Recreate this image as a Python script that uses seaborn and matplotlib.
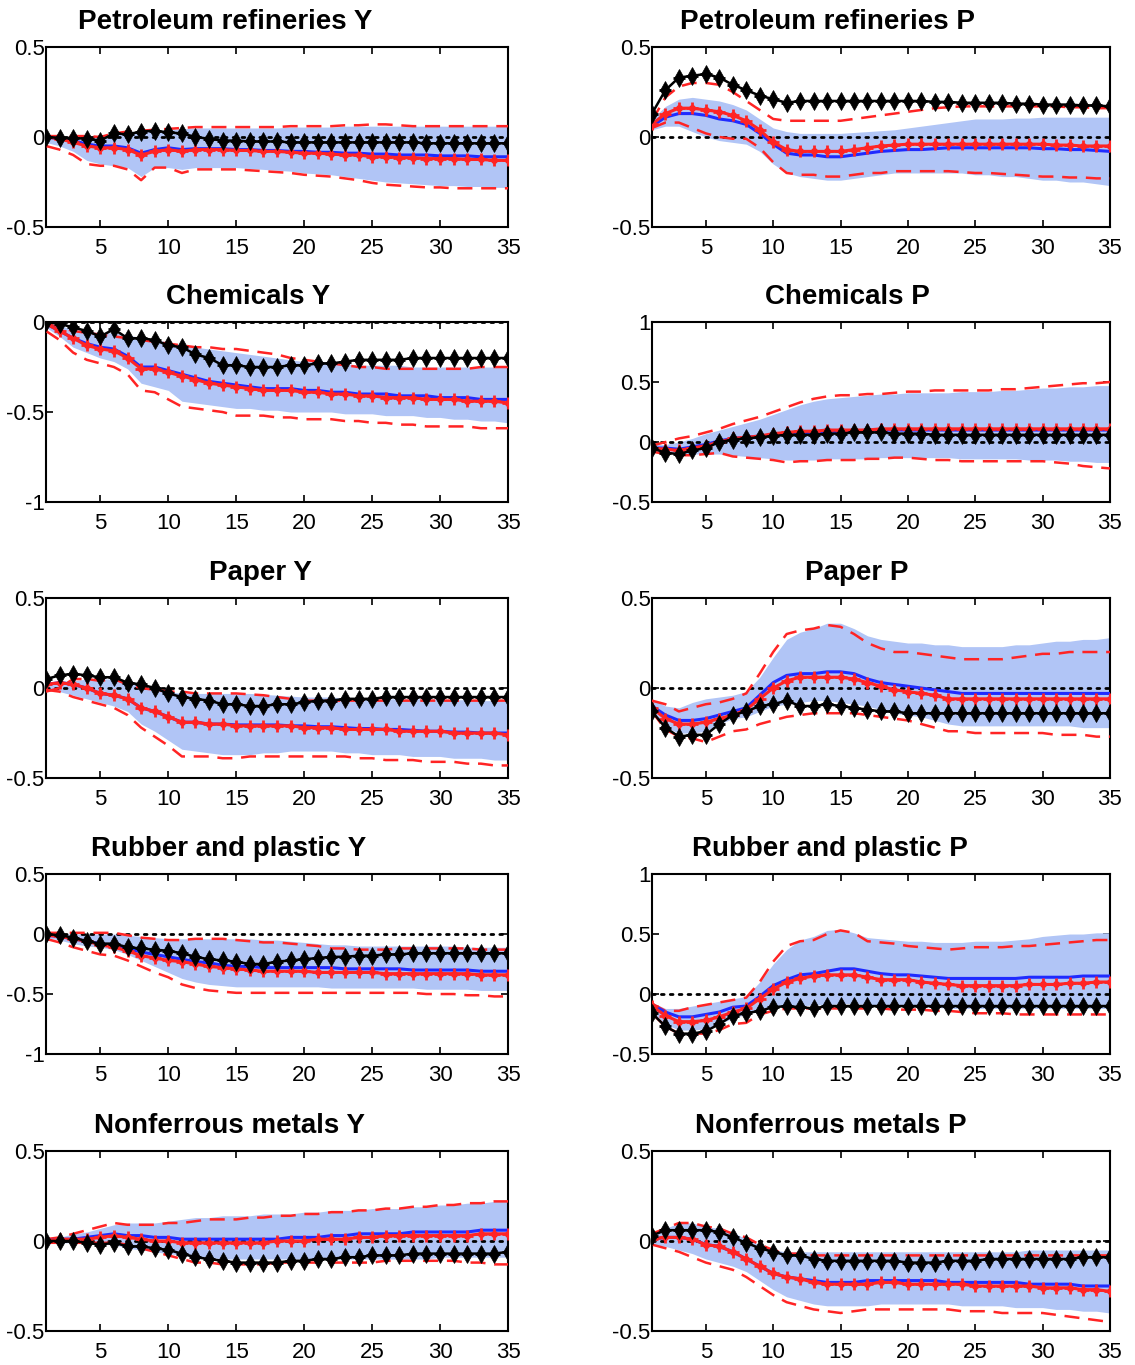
import numpy as np
import pandas as pd
import matplotlib
matplotlib.use("Agg")
import matplotlib.pyplot as plt
import seaborn as sns

# ---------------- data ----------------
horizon = list(range(1, 36))
titles = ["Petroleum refineries Y", "Petroleum refineries P",
          "Chemicals Y", "Chemicals P",
          "Paper Y", "Paper P",
          "Rubber and plastic Y", "Rubber and plastic P",
          "Nonferrous metals Y", "Nonferrous metals P"]
ylims = [(-0.5, 0.5), (-0.5, 0.5), (-1, 0), (-0.5, 1), (-0.5, 0.5),
         (-0.5, 0.5), (-1, 0.5), (-0.5, 1), (-0.5, 0.5), (-0.5, 0.5)]
yticks = [[-0.5, 0, 0.5], [-0.5, 0, 0.5], [-1, -0.5, 0], [-0.5, 0, 0.5, 1],
          [-0.5, 0, 0.5], [-0.5, 0, 0.5], [-1, -0.5, 0, 0.5], [-0.5, 0, 0.5, 1],
          [-0.5, 0, 0.5], [-0.5, 0, 0.5]]
yticklabels = [["-0.5", "0", "0.5"], ["-0.5", "0", "0.5"], ["-1", "-0.5", "0"],
               ["-0.5", "0", "0.5", "1"], ["-0.5", "0", "0.5"], ["-0.5", "0", "0.5"],
               ["-1", "-0.5", "0", "0.5"], ["-0.5", "0", "0.5", "1"],
               ["-0.5", "0", "0.5"], ["-0.5", "0", "0.5"]]
xticks = [5, 10, 15, 20, 25, 30, 35]

# Petroleum refineries Y
pry_black = [0.0,-0.005,-0.005,-0.01,-0.02,0.02,0.015,0.03,0.035,0.025,0.02,0.0,-0.01,-0.02,-0.02,-0.025,-0.025,-0.025,-0.03,-0.03,-0.03,-0.03,-0.03,-0.03,-0.03,-0.03,-0.03,-0.03,-0.035,-0.035,-0.035,-0.035,-0.035,-0.035,-0.035]
pry_red = [0.0,-0.01,-0.03,-0.05,-0.06,-0.06,-0.07,-0.1,-0.08,-0.07,-0.08,-0.07,-0.07,-0.07,-0.075,-0.075,-0.08,-0.08,-0.085,-0.09,-0.09,-0.095,-0.1,-0.1,-0.11,-0.11,-0.115,-0.115,-0.12,-0.12,-0.12,-0.125,-0.125,-0.13,-0.13]
pry_blue = [0.0,-0.01,-0.02,-0.04,-0.05,-0.05,-0.06,-0.09,-0.07,-0.06,-0.07,-0.065,-0.065,-0.065,-0.07,-0.07,-0.075,-0.075,-0.08,-0.08,-0.085,-0.085,-0.09,-0.09,-0.095,-0.095,-0.1,-0.1,-0.1,-0.105,-0.105,-0.105,-0.11,-0.11,-0.11]
pry_band_hi = [0.0,0.0,0.0,0.0,0.0,0.01,0.02,0.03,0.035,0.04,0.045,0.05,0.05,0.05,0.05,0.05,0.05,0.05,0.055,0.055,0.055,0.055,0.06,0.06,0.06,0.06,0.06,0.06,0.06,0.06,0.06,0.06,0.06,0.06,0.06]
pry_band_lo = [-0.03,-0.05,-0.08,-0.13,-0.15,-0.16,-0.17,-0.22,-0.17,-0.17,-0.18,-0.17,-0.17,-0.17,-0.17,-0.175,-0.18,-0.185,-0.19,-0.2,-0.205,-0.21,-0.22,-0.23,-0.24,-0.25,-0.255,-0.26,-0.265,-0.27,-0.27,-0.275,-0.275,-0.28,-0.28]
pry_dash_hi = [0.005,0.005,0.005,0.005,0.0,0.02,0.03,0.035,0.04,0.045,0.05,0.055,0.055,0.055,0.055,0.055,0.055,0.055,0.06,0.06,0.06,0.06,0.065,0.065,0.07,0.07,0.065,0.06,0.06,0.06,0.06,0.06,0.06,0.06,0.06]
pry_dash_lo = [-0.05,-0.07,-0.1,-0.15,-0.16,-0.16,-0.18,-0.24,-0.17,-0.17,-0.2,-0.18,-0.18,-0.18,-0.18,-0.185,-0.19,-0.195,-0.2,-0.21,-0.215,-0.22,-0.23,-0.24,-0.255,-0.265,-0.27,-0.275,-0.28,-0.28,-0.285,-0.285,-0.285,-0.285,-0.285]

# Petroleum refineries P
prp_black = [0.13,0.26,0.33,0.34,0.35,0.33,0.29,0.26,0.23,0.21,0.19,0.2,0.2,0.2,0.2,0.2,0.2,0.2,0.2,0.2,0.2,0.195,0.195,0.19,0.19,0.19,0.19,0.185,0.185,0.18,0.18,0.18,0.175,0.175,0.17]
prp_red = [0.07,0.13,0.16,0.16,0.15,0.14,0.12,0.09,0.04,-0.03,-0.07,-0.08,-0.08,-0.08,-0.08,-0.07,-0.06,-0.05,-0.045,-0.04,-0.04,-0.04,-0.04,-0.04,-0.04,-0.04,-0.04,-0.04,-0.04,-0.04,-0.045,-0.045,-0.05,-0.05,-0.05]
prp_blue = [0.06,0.11,0.13,0.13,0.12,0.1,0.09,0.07,0.02,-0.04,-0.09,-0.1,-0.1,-0.11,-0.11,-0.1,-0.09,-0.08,-0.075,-0.07,-0.07,-0.065,-0.06,-0.06,-0.06,-0.06,-0.06,-0.06,-0.06,-0.065,-0.065,-0.07,-0.07,-0.075,-0.08]
prp_band_hi = [0.1,0.17,0.21,0.22,0.21,0.2,0.18,0.15,0.1,0.05,0.03,0.02,0.02,0.02,0.02,0.025,0.03,0.035,0.04,0.05,0.06,0.07,0.08,0.09,0.1,0.1,0.1,0.105,0.105,0.11,0.11,0.11,0.11,0.11,0.11]
prp_band_lo = [0.04,0.06,0.06,0.03,0.0,-0.02,-0.03,-0.04,-0.08,-0.15,-0.2,-0.22,-0.23,-0.24,-0.24,-0.23,-0.22,-0.21,-0.2,-0.2,-0.2,-0.2,-0.2,-0.2,-0.21,-0.21,-0.22,-0.22,-0.23,-0.24,-0.24,-0.25,-0.25,-0.26,-0.27]
prp_dash_hi = [0.09,0.22,0.28,0.3,0.3,0.29,0.25,0.2,0.15,0.1,0.09,0.09,0.09,0.09,0.09,0.1,0.11,0.12,0.13,0.14,0.15,0.16,0.165,0.17,0.17,0.17,0.17,0.17,0.17,0.17,0.17,0.165,0.165,0.16,0.16]
prp_dash_lo = [0.05,0.08,0.08,0.05,0.02,0.0,-0.01,-0.01,-0.06,-0.14,-0.2,-0.21,-0.21,-0.22,-0.22,-0.21,-0.2,-0.2,-0.19,-0.19,-0.19,-0.19,-0.19,-0.195,-0.2,-0.2,-0.205,-0.21,-0.215,-0.22,-0.22,-0.225,-0.225,-0.23,-0.23]

# Chemicals Y
chy_black = [0.0,-0.01,-0.03,-0.05,-0.08,-0.04,-0.09,-0.09,-0.1,-0.13,-0.14,-0.18,-0.2,-0.24,-0.24,-0.25,-0.25,-0.25,-0.24,-0.24,-0.23,-0.23,-0.22,-0.21,-0.21,-0.21,-0.21,-0.2,-0.2,-0.2,-0.2,-0.2,-0.2,-0.2,-0.2]
chy_red = [-0.01,-0.05,-0.09,-0.13,-0.15,-0.16,-0.2,-0.26,-0.26,-0.28,-0.3,-0.32,-0.34,-0.35,-0.36,-0.37,-0.38,-0.38,-0.38,-0.39,-0.39,-0.4,-0.4,-0.41,-0.41,-0.42,-0.42,-0.42,-0.43,-0.43,-0.43,-0.44,-0.44,-0.44,-0.45]
chy_blue = [-0.01,-0.05,-0.09,-0.12,-0.14,-0.15,-0.19,-0.25,-0.25,-0.27,-0.29,-0.31,-0.33,-0.34,-0.35,-0.36,-0.37,-0.37,-0.37,-0.38,-0.38,-0.39,-0.39,-0.4,-0.4,-0.4,-0.41,-0.41,-0.41,-0.42,-0.42,-0.42,-0.43,-0.43,-0.43]
chy_band_hi = [0.0,-0.02,-0.04,-0.05,-0.06,-0.06,-0.07,-0.09,-0.1,-0.11,-0.13,-0.14,-0.15,-0.16,-0.17,-0.18,-0.19,-0.2,-0.21,-0.22,-0.22,-0.23,-0.23,-0.24,-0.24,-0.24,-0.24,-0.25,-0.25,-0.25,-0.25,-0.25,-0.25,-0.25,-0.25]
chy_band_lo = [-0.03,-0.08,-0.14,-0.17,-0.2,-0.22,-0.26,-0.34,-0.36,-0.38,-0.44,-0.45,-0.46,-0.47,-0.48,-0.48,-0.49,-0.49,-0.5,-0.5,-0.5,-0.5,-0.51,-0.51,-0.51,-0.52,-0.52,-0.52,-0.53,-0.53,-0.54,-0.54,-0.55,-0.55,-0.56]
chy_dash_hi = [-0.01,-0.03,-0.05,-0.06,-0.07,-0.08,-0.09,-0.1,-0.11,-0.12,-0.13,-0.14,-0.14,-0.15,-0.15,-0.16,-0.17,-0.18,-0.2,-0.21,-0.22,-0.23,-0.24,-0.25,-0.25,-0.26,-0.26,-0.26,-0.26,-0.26,-0.26,-0.26,-0.25,-0.25,-0.25]
chy_dash_lo = [-0.05,-0.1,-0.17,-0.21,-0.23,-0.25,-0.29,-0.38,-0.39,-0.43,-0.47,-0.48,-0.49,-0.5,-0.52,-0.52,-0.52,-0.53,-0.53,-0.54,-0.54,-0.54,-0.55,-0.55,-0.56,-0.56,-0.57,-0.57,-0.58,-0.58,-0.58,-0.58,-0.59,-0.59,-0.59]

# Chemicals P
chp_black = [-0.05,-0.09,-0.1,-0.07,-0.05,0.0,0.02,0.03,0.04,0.05,0.06,0.06,0.06,0.07,0.07,0.08,0.08,0.08,0.07,0.07,0.07,0.06,0.06,0.06,0.06,0.06,0.06,0.06,0.06,0.06,0.06,0.06,0.06,0.06,0.06]
chp_red = [-0.05,-0.06,-0.07,-0.05,-0.03,0.0,0.03,0.04,0.05,0.07,0.08,0.09,0.09,0.1,0.1,0.1,0.1,0.11,0.11,0.11,0.11,0.11,0.11,0.11,0.11,0.11,0.11,0.11,0.11,0.11,0.11,0.11,0.11,0.11,0.11]
chp_blue = [-0.05,-0.05,-0.06,-0.04,-0.02,0.01,0.03,0.04,0.05,0.06,0.07,0.08,0.08,0.09,0.09,0.09,0.1,0.1,0.1,0.1,0.1,0.1,0.1,0.1,0.1,0.1,0.1,0.1,0.1,0.1,0.1,0.1,0.1,0.1,0.1]
chp_band_hi = [-0.02,-0.02,0.0,0.03,0.07,0.1,0.13,0.16,0.19,0.23,0.27,0.31,0.34,0.36,0.37,0.38,0.39,0.4,0.4,0.41,0.41,0.41,0.41,0.42,0.42,0.42,0.43,0.43,0.44,0.45,0.45,0.46,0.46,0.47,0.47]
chp_band_lo = [-0.07,-0.09,-0.1,-0.1,-0.1,-0.1,-0.11,-0.12,-0.13,-0.14,-0.15,-0.15,-0.15,-0.14,-0.14,-0.14,-0.14,-0.13,-0.13,-0.13,-0.13,-0.13,-0.13,-0.14,-0.14,-0.14,-0.14,-0.14,-0.15,-0.15,-0.15,-0.16,-0.16,-0.17,-0.17]
chp_dash_hi = [-0.03,0.0,0.03,0.05,0.08,0.11,0.15,0.18,0.21,0.25,0.29,0.33,0.36,0.38,0.39,0.39,0.4,0.4,0.41,0.42,0.42,0.43,0.43,0.43,0.43,0.43,0.44,0.44,0.45,0.46,0.47,0.48,0.49,0.49,0.5]
chp_dash_lo = [-0.08,-0.1,-0.11,-0.11,-0.1,-0.09,-0.12,-0.13,-0.14,-0.15,-0.17,-0.16,-0.16,-0.15,-0.15,-0.15,-0.14,-0.14,-0.13,-0.13,-0.14,-0.15,-0.15,-0.16,-0.16,-0.16,-0.16,-0.16,-0.16,-0.16,-0.17,-0.18,-0.2,-0.21,-0.22]

# Paper Y
pay_black = [0.05,0.07,0.08,0.07,0.06,0.06,0.03,0.02,0.0,-0.03,-0.05,-0.06,-0.07,-0.09,-0.09,-0.1,-0.1,-0.09,-0.09,-0.08,-0.07,-0.07,-0.06,-0.06,-0.06,-0.05,-0.05,-0.05,-0.05,-0.05,-0.05,-0.05,-0.05,-0.05,-0.05]
pay_red = [0.02,0.03,0.02,0.0,-0.03,-0.04,-0.06,-0.11,-0.13,-0.16,-0.19,-0.19,-0.2,-0.2,-0.21,-0.21,-0.21,-0.21,-0.21,-0.22,-0.22,-0.22,-0.23,-0.23,-0.23,-0.23,-0.24,-0.24,-0.24,-0.24,-0.25,-0.25,-0.25,-0.25,-0.26]
pay_blue = [0.02,0.03,0.02,0.0,-0.03,-0.04,-0.06,-0.11,-0.13,-0.16,-0.19,-0.19,-0.2,-0.2,-0.205,-0.205,-0.205,-0.205,-0.21,-0.21,-0.215,-0.215,-0.22,-0.225,-0.225,-0.23,-0.23,-0.235,-0.24,-0.24,-0.245,-0.245,-0.25,-0.25,-0.25]
pay_band_hi = [0.02,0.04,0.04,0.05,0.05,0.05,0.03,0.02,0.0,-0.02,-0.03,-0.03,-0.03,-0.03,-0.03,-0.03,-0.035,-0.04,-0.045,-0.05,-0.05,-0.05,-0.055,-0.055,-0.06,-0.06,-0.06,-0.06,-0.06,-0.06,-0.065,-0.065,-0.07,-0.07,-0.07]
pay_band_lo = [0.0,-0.02,-0.04,-0.06,-0.08,-0.1,-0.13,-0.2,-0.24,-0.29,-0.34,-0.35,-0.36,-0.37,-0.37,-0.37,-0.36,-0.36,-0.35,-0.35,-0.35,-0.35,-0.36,-0.36,-0.37,-0.37,-0.37,-0.38,-0.38,-0.38,-0.39,-0.39,-0.39,-0.4,-0.4]
pay_dash_hi = [-0.02,0.0,0.05,0.05,0.04,0.05,0.02,0.0,-0.01,-0.02,-0.02,-0.03,-0.03,-0.03,-0.03,-0.035,-0.04,-0.05,-0.06,-0.07,-0.07,-0.07,-0.07,-0.07,-0.07,-0.07,-0.07,-0.07,-0.07,-0.07,-0.07,-0.07,-0.07,-0.07,-0.07]
pay_dash_lo = [-0.01,-0.02,-0.05,-0.07,-0.09,-0.11,-0.15,-0.22,-0.27,-0.32,-0.38,-0.38,-0.38,-0.39,-0.39,-0.38,-0.38,-0.38,-0.38,-0.38,-0.38,-0.38,-0.38,-0.39,-0.39,-0.4,-0.4,-0.4,-0.41,-0.41,-0.41,-0.42,-0.42,-0.43,-0.43]

# Paper P
pap_black = [-0.13,-0.22,-0.27,-0.26,-0.26,-0.2,-0.15,-0.13,-0.1,-0.09,-0.07,-0.1,-0.1,-0.09,-0.1,-0.11,-0.12,-0.13,-0.13,-0.14,-0.14,-0.14,-0.14,-0.14,-0.14,-0.14,-0.14,-0.14,-0.14,-0.14,-0.14,-0.14,-0.14,-0.14,-0.14]
pap_red = [-0.11,-0.17,-0.2,-0.2,-0.19,-0.17,-0.15,-0.12,-0.06,0.0,0.04,0.06,0.06,0.06,0.06,0.05,0.03,0.01,-0.01,-0.02,-0.03,-0.04,-0.06,-0.06,-0.06,-0.06,-0.06,-0.06,-0.06,-0.06,-0.06,-0.06,-0.06,-0.06,-0.06]
pap_blue = [-0.1,-0.15,-0.18,-0.18,-0.17,-0.15,-0.13,-0.11,-0.04,0.03,0.07,0.08,0.08,0.09,0.09,0.08,0.05,0.03,0.02,0.01,0.0,-0.01,-0.02,-0.03,-0.03,-0.03,-0.03,-0.03,-0.03,-0.03,-0.03,-0.03,-0.03,-0.03,-0.03]
pap_band_hi = [-0.06,-0.1,-0.11,-0.08,-0.06,-0.05,-0.04,-0.02,0.06,0.17,0.27,0.31,0.33,0.36,0.36,0.33,0.29,0.27,0.26,0.25,0.25,0.24,0.24,0.23,0.23,0.23,0.23,0.24,0.24,0.25,0.26,0.26,0.27,0.27,0.28]
pap_band_lo = [-0.13,-0.22,-0.25,-0.25,-0.24,-0.2,-0.17,-0.16,-0.13,-0.1,-0.09,-0.08,-0.07,-0.07,-0.08,-0.09,-0.1,-0.12,-0.14,-0.15,-0.16,-0.18,-0.2,-0.21,-0.21,-0.21,-0.21,-0.21,-0.21,-0.21,-0.21,-0.21,-0.22,-0.22,-0.22]
pap_dash_hi = [-0.07,-0.09,-0.13,-0.11,-0.09,-0.08,-0.06,-0.03,0.08,0.2,0.3,0.32,0.33,0.35,0.34,0.3,0.25,0.22,0.2,0.2,0.19,0.18,0.17,0.16,0.16,0.16,0.16,0.17,0.18,0.19,0.19,0.2,0.2,0.2,0.2]
pap_dash_lo = [-0.13,-0.23,-0.27,-0.28,-0.3,-0.27,-0.24,-0.23,-0.2,-0.18,-0.16,-0.15,-0.14,-0.14,-0.14,-0.14,-0.15,-0.16,-0.17,-0.18,-0.2,-0.22,-0.24,-0.24,-0.25,-0.25,-0.25,-0.25,-0.25,-0.25,-0.26,-0.26,-0.26,-0.27,-0.27]

# Rubber and plastic Y
rpy_black = [0.0,-0.01,-0.03,-0.06,-0.08,-0.08,-0.11,-0.12,-0.13,-0.14,-0.16,-0.19,-0.21,-0.22,-0.23,-0.25,-0.25,-0.23,-0.22,-0.21,-0.2,-0.19,-0.19,-0.18,-0.18,-0.17,-0.17,-0.16,-0.16,-0.16,-0.16,-0.16,-0.16,-0.16,-0.16]
rpy_red = [-0.01,-0.02,-0.04,-0.06,-0.09,-0.11,-0.14,-0.18,-0.2,-0.22,-0.23,-0.25,-0.27,-0.28,-0.29,-0.3,-0.31,-0.31,-0.31,-0.31,-0.32,-0.32,-0.32,-0.32,-0.32,-0.33,-0.33,-0.33,-0.33,-0.33,-0.33,-0.33,-0.34,-0.34,-0.34]
rpy_blue = [-0.01,-0.02,-0.04,-0.06,-0.08,-0.1,-0.12,-0.15,-0.17,-0.19,-0.21,-0.23,-0.24,-0.26,-0.27,-0.27,-0.28,-0.28,-0.28,-0.28,-0.28,-0.28,-0.29,-0.29,-0.29,-0.29,-0.29,-0.3,-0.3,-0.3,-0.3,-0.3,-0.31,-0.31,-0.31]
rpy_band_hi = [0.0,0.0,0.0,0.0,0.0,0.0,-0.01,-0.02,-0.03,-0.04,-0.04,-0.04,-0.04,-0.04,-0.04,-0.04,-0.05,-0.05,-0.06,-0.07,-0.08,-0.09,-0.09,-0.1,-0.1,-0.1,-0.1,-0.1,-0.1,-0.1,-0.1,-0.11,-0.11,-0.11,-0.11]
rpy_band_lo = [-0.03,-0.05,-0.08,-0.1,-0.11,-0.13,-0.17,-0.22,-0.27,-0.32,-0.37,-0.4,-0.42,-0.43,-0.44,-0.44,-0.44,-0.44,-0.44,-0.44,-0.44,-0.45,-0.45,-0.45,-0.45,-0.45,-0.45,-0.45,-0.46,-0.46,-0.46,-0.46,-0.47,-0.47,-0.47]
rpy_dash_hi = [0.01,0.01,0.01,0.01,0.01,0.01,-0.01,-0.03,-0.04,-0.05,-0.05,-0.04,-0.04,-0.04,-0.05,-0.06,-0.07,-0.07,-0.08,-0.09,-0.1,-0.12,-0.12,-0.13,-0.13,-0.13,-0.12,-0.12,-0.12,-0.12,-0.12,-0.12,-0.13,-0.13,-0.13]
rpy_dash_lo = [-0.04,-0.07,-0.11,-0.14,-0.17,-0.18,-0.22,-0.27,-0.32,-0.36,-0.42,-0.45,-0.47,-0.48,-0.49,-0.49,-0.49,-0.49,-0.49,-0.49,-0.49,-0.49,-0.49,-0.49,-0.49,-0.49,-0.49,-0.49,-0.5,-0.5,-0.5,-0.51,-0.51,-0.52,-0.52]

# Rubber and plastic P
rpp_black = [-0.16,-0.27,-0.33,-0.33,-0.31,-0.25,-0.18,-0.16,-0.14,-0.11,-0.1,-0.11,-0.12,-0.1,-0.1,-0.1,-0.1,-0.1,-0.1,-0.1,-0.1,-0.1,-0.1,-0.1,-0.1,-0.1,-0.1,-0.1,-0.1,-0.1,-0.1,-0.1,-0.1,-0.1,-0.1]
rpp_red = [-0.1,-0.18,-0.23,-0.23,-0.22,-0.19,-0.15,-0.12,-0.04,0.04,0.1,0.13,0.15,0.16,0.16,0.16,0.14,0.12,0.12,0.12,0.1,0.09,0.08,0.07,0.07,0.07,0.07,0.07,0.08,0.08,0.08,0.09,0.09,0.1,0.1]
rpp_blue = [-0.09,-0.15,-0.19,-0.19,-0.17,-0.15,-0.11,-0.1,-0.02,0.07,0.12,0.16,0.17,0.19,0.21,0.21,0.19,0.17,0.16,0.16,0.15,0.14,0.13,0.13,0.13,0.13,0.13,0.13,0.14,0.14,0.14,0.14,0.15,0.15,0.15]
rpp_band_hi = [-0.07,-0.12,-0.12,-0.1,-0.08,-0.06,-0.04,-0.02,0.1,0.25,0.37,0.45,0.48,0.53,0.54,0.51,0.47,0.46,0.45,0.44,0.44,0.43,0.43,0.43,0.44,0.44,0.44,0.45,0.46,0.48,0.49,0.5,0.5,0.51,0.51]
rpp_band_lo = [-0.15,-0.25,-0.3,-0.3,-0.29,-0.25,-0.2,-0.17,-0.13,-0.11,-0.1,-0.1,-0.09,-0.09,-0.08,-0.08,-0.09,-0.09,-0.1,-0.1,-0.11,-0.11,-0.12,-0.12,-0.12,-0.12,-0.12,-0.12,-0.12,-0.12,-0.12,-0.12,-0.12,-0.12,-0.12]
rpp_dash_hi = [-0.08,-0.14,-0.14,-0.11,-0.09,-0.07,-0.05,-0.03,0.1,0.27,0.4,0.44,0.45,0.5,0.53,0.51,0.44,0.43,0.42,0.4,0.39,0.38,0.37,0.38,0.39,0.39,0.39,0.4,0.4,0.41,0.42,0.43,0.44,0.45,0.45]
rpp_dash_lo = [-0.16,-0.27,-0.33,-0.33,-0.33,-0.3,-0.25,-0.24,-0.17,-0.14,-0.12,-0.12,-0.12,-0.12,-0.12,-0.12,-0.12,-0.12,-0.13,-0.13,-0.13,-0.14,-0.14,-0.15,-0.16,-0.16,-0.16,-0.17,-0.17,-0.17,-0.17,-0.17,-0.17,-0.17,-0.17]

# Nonferrous metals Y
nmy_black = [0.0,0.0,0.0,-0.01,-0.02,-0.01,-0.03,-0.03,-0.04,-0.05,-0.07,-0.09,-0.1,-0.11,-0.12,-0.12,-0.12,-0.12,-0.11,-0.11,-0.1,-0.1,-0.09,-0.09,-0.08,-0.08,-0.08,-0.07,-0.07,-0.07,-0.07,-0.07,-0.07,-0.07,-0.06]
nmy_red = [0.0,0.01,0.01,0.01,0.02,0.03,0.02,0.01,0.0,0.0,-0.01,-0.01,-0.01,-0.01,-0.01,-0.01,-0.01,0.0,0.0,0.0,0.01,0.01,0.01,0.02,0.02,0.03,0.03,0.03,0.03,0.03,0.03,0.03,0.04,0.04,0.04]
nmy_blue = [0.0,0.01,0.01,0.02,0.03,0.04,0.03,0.03,0.02,0.02,0.01,0.01,0.01,0.01,0.01,0.01,0.01,0.01,0.02,0.02,0.02,0.03,0.03,0.04,0.04,0.04,0.04,0.05,0.05,0.05,0.05,0.05,0.06,0.06,0.06]
nmy_band_hi = [0.0,0.02,0.04,0.05,0.07,0.09,0.1,0.1,0.1,0.11,0.12,0.13,0.13,0.14,0.14,0.14,0.15,0.15,0.15,0.16,0.16,0.17,0.17,0.17,0.18,0.18,0.18,0.19,0.19,0.2,0.2,0.21,0.21,0.22,0.22]
nmy_band_lo = [-0.01,-0.01,-0.01,-0.01,-0.02,-0.02,-0.04,-0.05,-0.06,-0.07,-0.08,-0.09,-0.09,-0.1,-0.1,-0.1,-0.1,-0.1,-0.1,-0.1,-0.1,-0.1,-0.1,-0.1,-0.1,-0.1,-0.1,-0.1,-0.1,-0.09,-0.09,-0.09,-0.09,-0.09,-0.09]
nmy_dash_hi = [0.01,0.02,0.04,0.06,0.08,0.1,0.09,0.09,0.09,0.1,0.1,0.11,0.12,0.12,0.12,0.13,0.13,0.14,0.14,0.15,0.15,0.16,0.16,0.17,0.17,0.18,0.18,0.19,0.19,0.2,0.2,0.21,0.21,0.22,0.22]
nmy_dash_lo = [-0.01,-0.01,-0.01,-0.01,-0.01,-0.01,-0.02,-0.04,-0.06,-0.08,-0.1,-0.12,-0.12,-0.13,-0.13,-0.13,-0.13,-0.12,-0.12,-0.12,-0.12,-0.12,-0.12,-0.12,-0.12,-0.11,-0.11,-0.11,-0.11,-0.11,-0.11,-0.12,-0.12,-0.13,-0.13]

# Nonferrous metals P
nmp_black = [0.03,0.06,0.06,0.06,0.06,0.05,0.02,-0.01,-0.04,-0.06,-0.08,-0.08,-0.1,-0.11,-0.11,-0.11,-0.11,-0.11,-0.11,-0.12,-0.12,-0.12,-0.11,-0.11,-0.11,-0.1,-0.1,-0.1,-0.1,-0.1,-0.1,-0.1,-0.09,-0.09,-0.09]
nmp_red = [0.01,0.02,0.02,0.01,-0.02,-0.03,-0.06,-0.1,-0.14,-0.18,-0.2,-0.21,-0.23,-0.24,-0.24,-0.24,-0.24,-0.23,-0.23,-0.24,-0.24,-0.24,-0.24,-0.24,-0.25,-0.25,-0.25,-0.25,-0.25,-0.26,-0.26,-0.26,-0.27,-0.27,-0.28]
nmp_blue = [0.01,0.02,0.02,0.01,-0.02,-0.03,-0.06,-0.1,-0.14,-0.18,-0.2,-0.21,-0.22,-0.23,-0.23,-0.23,-0.22,-0.22,-0.22,-0.22,-0.22,-0.22,-0.23,-0.23,-0.23,-0.23,-0.23,-0.23,-0.24,-0.24,-0.24,-0.24,-0.25,-0.25,-0.25]
nmp_band_hi = [0.04,0.07,0.1,0.1,0.08,0.07,0.05,0.01,-0.02,-0.05,-0.06,-0.06,-0.06,-0.06,-0.06,-0.06,-0.06,-0.06,-0.06,-0.06,-0.06,-0.06,-0.06,-0.06,-0.06,-0.06,-0.06,-0.06,-0.05,-0.05,-0.05,-0.05,-0.05,-0.05,-0.05]
nmp_band_lo = [-0.02,-0.03,-0.05,-0.07,-0.1,-0.12,-0.14,-0.17,-0.22,-0.27,-0.31,-0.33,-0.35,-0.36,-0.36,-0.36,-0.36,-0.35,-0.35,-0.35,-0.35,-0.35,-0.35,-0.36,-0.36,-0.36,-0.36,-0.37,-0.37,-0.37,-0.38,-0.38,-0.39,-0.39,-0.4]
nmp_dash_hi = [0.04,0.07,0.1,0.1,0.08,0.07,0.04,0.02,-0.02,-0.05,-0.07,-0.07,-0.08,-0.08,-0.08,-0.08,-0.08,-0.08,-0.08,-0.08,-0.08,-0.08,-0.08,-0.08,-0.08,-0.08,-0.08,-0.08,-0.08,-0.08,-0.08,-0.08,-0.08,-0.08,-0.08]
nmp_dash_lo = [-0.02,-0.04,-0.06,-0.09,-0.12,-0.14,-0.16,-0.2,-0.25,-0.3,-0.34,-0.36,-0.38,-0.39,-0.4,-0.39,-0.38,-0.38,-0.38,-0.38,-0.38,-0.38,-0.38,-0.39,-0.39,-0.39,-0.4,-0.4,-0.4,-0.4,-0.41,-0.42,-0.43,-0.44,-0.45]

series = [
    (pry_black, pry_red, pry_blue, pry_band_hi, pry_band_lo, pry_dash_hi, pry_dash_lo),
    (prp_black, prp_red, prp_blue, prp_band_hi, prp_band_lo, prp_dash_hi, prp_dash_lo),
    (chy_black, chy_red, chy_blue, chy_band_hi, chy_band_lo, chy_dash_hi, chy_dash_lo),
    (chp_black, chp_red, chp_blue, chp_band_hi, chp_band_lo, chp_dash_hi, chp_dash_lo),
    (pay_black, pay_red, pay_blue, pay_band_hi, pay_band_lo, pay_dash_hi, pay_dash_lo),
    (pap_black, pap_red, pap_blue, pap_band_hi, pap_band_lo, pap_dash_hi, pap_dash_lo),
    (rpy_black, rpy_red, rpy_blue, rpy_band_hi, rpy_band_lo, rpy_dash_hi, rpy_dash_lo),
    (rpp_black, rpp_red, rpp_blue, rpp_band_hi, rpp_band_lo, rpp_dash_hi, rpp_dash_lo),
    (nmy_black, nmy_red, nmy_blue, nmy_band_hi, nmy_band_lo, nmy_dash_hi, nmy_dash_lo),
    (nmp_black, nmp_red, nmp_blue, nmp_band_hi, nmp_band_lo, nmp_dash_hi, nmp_dash_lo),
]

# ---------------- style ----------------
sns.set_theme(style="ticks")
plt.rcParams["font.family"] = ["Liberation Sans", "DejaVu Sans"]
plt.rcParams["text.color"] = "black"

SHADE = "#b1c5f6"
BLUE = "#1f2bff"
RED = "#ff2424"

fig = plt.figure(figsize=(11.35, 13.65), dpi=100)

col_left = [0.0405, 0.5744]
ax_w = [0.4071, 0.4035]
row_bottom = [0.8337, 0.6322, 0.4300, 0.2278, 0.0249]
ax_h = 0.1319
title_x = [0.069, 0.061, 0.26, 0.247, 0.353, 0.334, 0.097, 0.087, 0.104, 0.094]

for i, (title, s) in enumerate(zip(titles, series)):
    r, c = divmod(i, 2)
    ax = fig.add_axes([col_left[c], row_bottom[r], ax_w[c], ax_h])
    black, red, blue, bhi, blo, dhi, dlo = s
    for arr in s:
        assert len(arr) == len(horizon), (title, len(arr))
    df = pd.DataFrame({"t": horizon, "black": black, "red": red, "blue": blue,
                       "bhi": bhi, "blo": blo, "dhi": dhi, "dlo": dlo})

    ax.fill_between(df["t"], df["blo"], df["bhi"], color=SHADE, lw=0, zorder=1)
    ax.axhline(0, color="black", lw=2.0, linestyle=(0, (1, 2.2)),
               dash_capstyle="round", zorder=2)
    sns.lineplot(data=df, x="t", y="dhi", ax=ax, color=RED, lw=1.8,
                 linestyle=(0, (6, 3.5)), zorder=3)
    sns.lineplot(data=df, x="t", y="dlo", ax=ax, color=RED, lw=1.8,
                 linestyle=(0, (6, 3.5)), zorder=3)
    sns.lineplot(data=df, x="t", y="blue", ax=ax, color=BLUE, lw=2.2, zorder=4)
    sns.lineplot(data=df, x="t", y="red", ax=ax, color=RED, lw=2.2,
                 marker="o", markersize=5, markerfacecolor=RED,
                 markeredgecolor=RED, markeredgewidth=0, zorder=5)
    sns.lineplot(data=df, x="t", y="red", ax=ax, color=RED, linestyle="none",
                 marker="+", markersize=8, markeredgecolor=RED,
                 markeredgewidth=2.0, zorder=5)
    sns.lineplot(data=df, x="t", y="black", ax=ax, color="black", lw=1.8,
                 marker="d", markersize=9, markerfacecolor="black",
                 markeredgecolor="black", markeredgewidth=0.5, zorder=6)
    sns.lineplot(data=df, x="t", y="black", ax=ax, color="black", linestyle="none",
                 marker="+", markersize=9, markeredgecolor="black",
                 markeredgewidth=2.0, zorder=6)

    ax.set_xlim(1, 35)
    ax.set_ylim(*ylims[i])
    ax.set_xticks(xticks)
    ax.set_xticklabels([str(v) for v in xticks])
    ax.set_yticks(yticks[i])
    ax.set_yticklabels(yticklabels[i])
    ax.set_xlabel("")
    ax.set_ylabel("")
    ax.tick_params(axis="both", direction="in", top=True, right=True,
                   length=5, width=1.2, labelsize=16, colors="black")
    ax.tick_params(axis="x", pad=8)
    ax.tick_params(axis="y", pad=1)
    for sp in ax.spines.values():
        sp.set_visible(True)
        sp.set_linewidth(1.5)
        sp.set_color("black")
    ax.text(title_x[i], 1.10, title, transform=ax.transAxes, ha="left",
            va="baseline", fontsize=20, fontweight="bold", color="black")

fig.savefig("out.png", dpi=100)
